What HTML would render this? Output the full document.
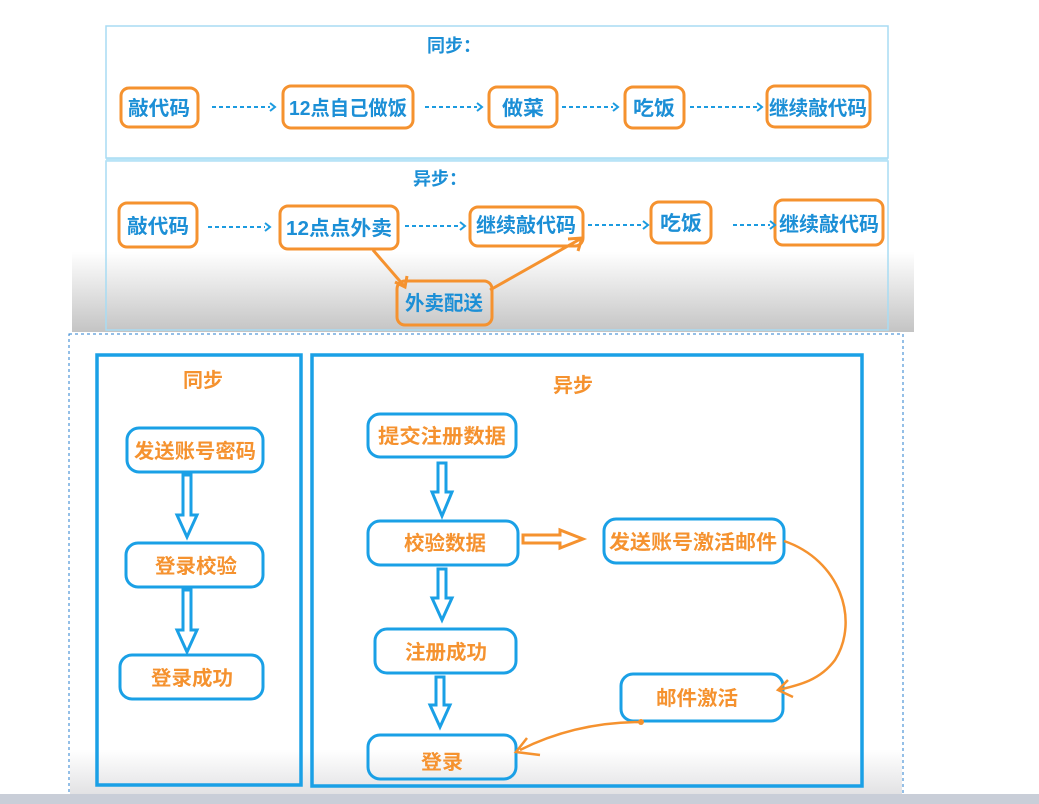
<!DOCTYPE html>
<html><head><meta charset="utf-8"><style>
html,body{margin:0;padding:0;background:#fff;}
svg{display:block;}
text{font-family:"Liberation Sans","Noto Sans CJK SC",sans-serif;font-weight:bold;}
</style></head><body>
<svg width="1039" height="804" viewBox="0 0 1039 804" xmlns="http://www.w3.org/2000/svg">
<defs>
<linearGradient id="g1" x1="0" y1="0" x2="0" y2="1">
<stop offset="0" stop-color="#ffffff"/><stop offset="1" stop-color="#c4c4c4"/>
</linearGradient>
<linearGradient id="g2" x1="0" y1="0" x2="0" y2="1">
<stop offset="0" stop-color="#ffffff"/><stop offset="1" stop-color="#e2e2e4"/>
</linearGradient>
</defs>
<rect width="1039" height="804" fill="#fff"/>
<rect x="72" y="252" width="842" height="80" fill="url(#g1)"/>
<rect x="106" y="26" width="782" height="132" fill="#fff" stroke="#a8dcf3" stroke-width="1.5"/>
<rect x="106" y="161" width="782" height="169" fill="none" stroke="#a8dcf3" stroke-width="1.5"/>
<line x1="106" y1="160" x2="888" y2="160" stroke="#b8e4f7" stroke-width="3"/>
<g fill="#1c8fd6" font-size="18" text-anchor="middle">
<text x="454" y="52">同步：</text>
<text x="440" y="185">异步：</text>
</g>
<g fill="none" stroke="#f5922f" stroke-width="3">
<rect x="121" y="88" width="77" height="39" rx="8"/>
<rect x="283" y="86" width="130" height="42" rx="8"/>
<rect x="489" y="87" width="68" height="40" rx="8"/>
<rect x="625" y="87" width="59" height="41" rx="8"/>
<rect x="767" y="86" width="103" height="41" rx="8"/>
<rect x="119" y="203" width="78" height="44" rx="8"/>
<rect x="280" y="206" width="118" height="43" rx="8"/>
<rect x="470" y="207" width="113" height="39" rx="8"/>
<rect x="651" y="202" width="60" height="41" rx="8"/>
<rect x="775" y="200" width="108" height="45" rx="8"/>
<rect x="397" y="281" width="95" height="44" rx="8"/>
<path d="M373 250 L405 287 M395 282 L405 287 L407 276"/>
<path d="M490 290 L582 238 M568 239 L582 238 L578 251"/>
</g>
<g fill="#1c8fd6" font-size="20" text-anchor="middle">
<text x="159" y="115" textLength="62" lengthAdjust="spacingAndGlyphs">敲代码</text>
<text x="348" y="115" textLength="118" lengthAdjust="spacingAndGlyphs">12点自己做饭</text>
<text x="523" y="115" textLength="42" lengthAdjust="spacingAndGlyphs">做菜</text>
<text x="654" y="115" textLength="42" lengthAdjust="spacingAndGlyphs">吃饭</text>
<text x="818" y="115" textLength="98" lengthAdjust="spacingAndGlyphs">继续敲代码</text>
<text x="158" y="233" textLength="62" lengthAdjust="spacingAndGlyphs">敲代码</text>
<text x="339" y="235" textLength="106" lengthAdjust="spacingAndGlyphs">12点点外卖</text>
<text x="526" y="232" textLength="100" lengthAdjust="spacingAndGlyphs">继续敲代码</text>
<text x="681" y="230" textLength="42" lengthAdjust="spacingAndGlyphs">吃饭</text>
<text x="829" y="231" textLength="100" lengthAdjust="spacingAndGlyphs">继续敲代码</text>
<text x="444" y="310" textLength="78" lengthAdjust="spacingAndGlyphs">外卖配送</text>
</g>
<g stroke="#1c9be0" stroke-width="2" stroke-dasharray="4,3" fill="none">
<line x1="212" y1="107" x2="270" y2="107"/>
<line x1="425" y1="107" x2="477" y2="107"/>
<line x1="562" y1="107" x2="613" y2="107"/>
<line x1="690" y1="107" x2="757" y2="107"/>
<line x1="208" y1="227" x2="265" y2="227"/>
<line x1="405" y1="226" x2="460" y2="226"/>
<line x1="588" y1="225" x2="643" y2="225"/>
<line x1="733" y1="225" x2="770" y2="225"/>
</g>
<g stroke="#1c9be0" stroke-width="2" fill="none">
<path d="M270 103 L275 107 L270 111"/><path d="M477 103 L482 107 L477 111"/>
<path d="M613 103 L618 107 L613 111"/><path d="M757 103 L762 107 L757 111"/>
<path d="M265 223 L270 227 L265 231"/><path d="M460 222 L465 226 L460 230"/>
<path d="M643 221 L648 225 L643 229"/><path d="M770 221 L775 225 L770 229"/>
</g>
<rect x="69" y="334" width="834" height="466" fill="none" stroke="#2a7fcf" stroke-width="1" stroke-dasharray="3,3"/>
<rect x="70" y="750" width="832" height="44" fill="url(#g2)"/>
<rect x="0" y="794" width="1039" height="10" fill="#c9ced8"/>
<g fill="none" stroke="#1aa0e6" stroke-width="3.5">
<rect x="97" y="355" width="204" height="430"/>
<rect x="312" y="355" width="550" height="431"/>
</g>
<g fill="none" stroke="#1aa0e6" stroke-width="3">
<rect x="127" y="428" width="136" height="44" rx="12"/>
<rect x="126" y="543" width="137" height="44" rx="12"/>
<rect x="120" y="655" width="143" height="44" rx="12"/>
<rect x="368" y="414" width="148" height="43" rx="12"/>
<rect x="368" y="521" width="150" height="44" rx="12"/>
<rect x="375" y="629" width="141" height="44" rx="12"/>
<rect x="368" y="735" width="148" height="44" rx="12"/>
<rect x="604" y="519" width="180" height="44" rx="12"/>
<rect x="621" y="674" width="162" height="47" rx="12"/>
<path d="M183 475 L191 475 L191 515 L197 515 L187 537 L177 515 L183 515 Z"/>
<path d="M183 590 L191 590 L191 630 L197 630 L187 652 L177 630 L183 630 Z"/>
<path d="M438 463 L446 463 L446 492 L452 492 L442 516 L432 492 L438 492 Z"/>
<path d="M438 569 L446 569 L446 598 L452 598 L442 620 L432 598 L438 598 Z"/>
<path d="M436 677 L444 677 L444 705 L450 705 L440 727 L430 705 L436 705 Z"/>
</g>
<path d="M523 535 L560 535 L560 530 L583 539 L560 548 L560 543 L523 543 Z" fill="none" stroke="#f5922f" stroke-width="3"/>
<g fill="none" stroke="#f5922f" stroke-width="2.5">
<path d="M784 541 C840 560 860 620 835 660 C820 680 800 685 778 690"/>
<path d="M788 680 L778 690 L793 697"/>
<path d="M642 722 C600 722 560 730 520 750 M527 738 L516 752 L540 755"/>
</g>
<circle cx="641" cy="722" r="3" fill="#f5922f"/>
<g fill="#f5922f" font-size="20" text-anchor="middle">
<text x="203" y="387">同步</text>
<text x="573" y="392">异步</text>
<text x="195" y="458" textLength="122" lengthAdjust="spacingAndGlyphs">发送账号密码</text>
<text x="196" y="573" textLength="82" lengthAdjust="spacingAndGlyphs">登录校验</text>
<text x="192" y="685" textLength="82" lengthAdjust="spacingAndGlyphs">登录成功</text>
<text x="442" y="443" textLength="128" lengthAdjust="spacingAndGlyphs">提交注册数据</text>
<text x="445" y="550" textLength="82" lengthAdjust="spacingAndGlyphs">校验数据</text>
<text x="446" y="659" textLength="82" lengthAdjust="spacingAndGlyphs">注册成功</text>
<text x="442" y="769" textLength="42" lengthAdjust="spacingAndGlyphs">登录</text>
<text x="693" y="549" textLength="168" lengthAdjust="spacingAndGlyphs">发送账号激活邮件</text>
<text x="697" y="705" textLength="82" lengthAdjust="spacingAndGlyphs">邮件激活</text>
</g>
</svg>
</body></html>
